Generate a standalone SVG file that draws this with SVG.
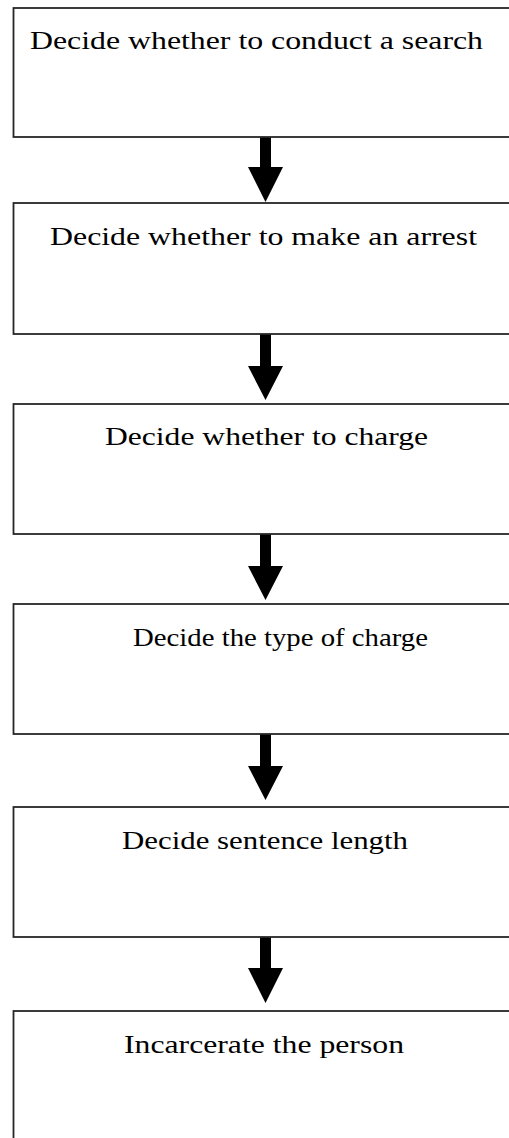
<svg xmlns="http://www.w3.org/2000/svg" width="509" height="1138" viewBox="0 0 509 1138">
<style>
.box{fill:#fff;stroke:#262626;stroke-width:1.8}
.lbl{font-family:"Liberation Serif","Times New Roman",serif;font-size:26px;fill:#000}
.arr{fill:#000}
</style>
<rect width="509" height="1138" fill="#fff"/>
<g id="connectors">
<path class="arr" d="M260,137 H271 V167 H283 L265.5,202 L248,167 H260 Z"/>
<path class="arr" d="M260,334 H271 V366 H283 L265.5,400 L248,366 H260 Z"/>
<path class="arr" d="M260,534 H271 V566 H283 L265.5,600 L248,566 H260 Z"/>
<path class="arr" d="M260,734 H271 V766 H283 L265.5,800 L248,766 H260 Z"/>
<path class="arr" d="M260,937 H271 V968 H283 L265.5,1003 L248,968 H260 Z"/>
</g>
<g id="node1">
<rect class="box" x="13.5" y="8" width="520" height="129"/>
<text class="lbl" x="30" y="49" textLength="453" lengthAdjust="spacingAndGlyphs">Decide whether to conduct a search</text>
</g>
<g id="node2">
<rect class="box" x="13.5" y="203" width="520" height="131"/>
<text class="lbl" x="50" y="245" textLength="427" lengthAdjust="spacingAndGlyphs">Decide whether to make an arrest</text>
</g>
<g id="node3">
<rect class="box" x="13.5" y="404" width="520" height="130"/>
<text class="lbl" x="105" y="445" textLength="323" lengthAdjust="spacingAndGlyphs">Decide whether to charge</text>
</g>
<g id="node4">
<rect class="box" x="13.5" y="604" width="520" height="130"/>
<text class="lbl" x="133" y="646" textLength="295" lengthAdjust="spacingAndGlyphs">Decide the type of charge</text>
</g>
<g id="node5">
<rect class="box" x="13.5" y="807" width="520" height="130"/>
<text class="lbl" x="122" y="849" textLength="286" lengthAdjust="spacingAndGlyphs">Decide sentence length</text>
</g>
<g id="node6">
<rect class="box" x="13.5" y="1011" width="520" height="160"/>
<text class="lbl" x="124" y="1053" textLength="280" lengthAdjust="spacingAndGlyphs">Incarcerate the person</text>
</g>
</svg>
